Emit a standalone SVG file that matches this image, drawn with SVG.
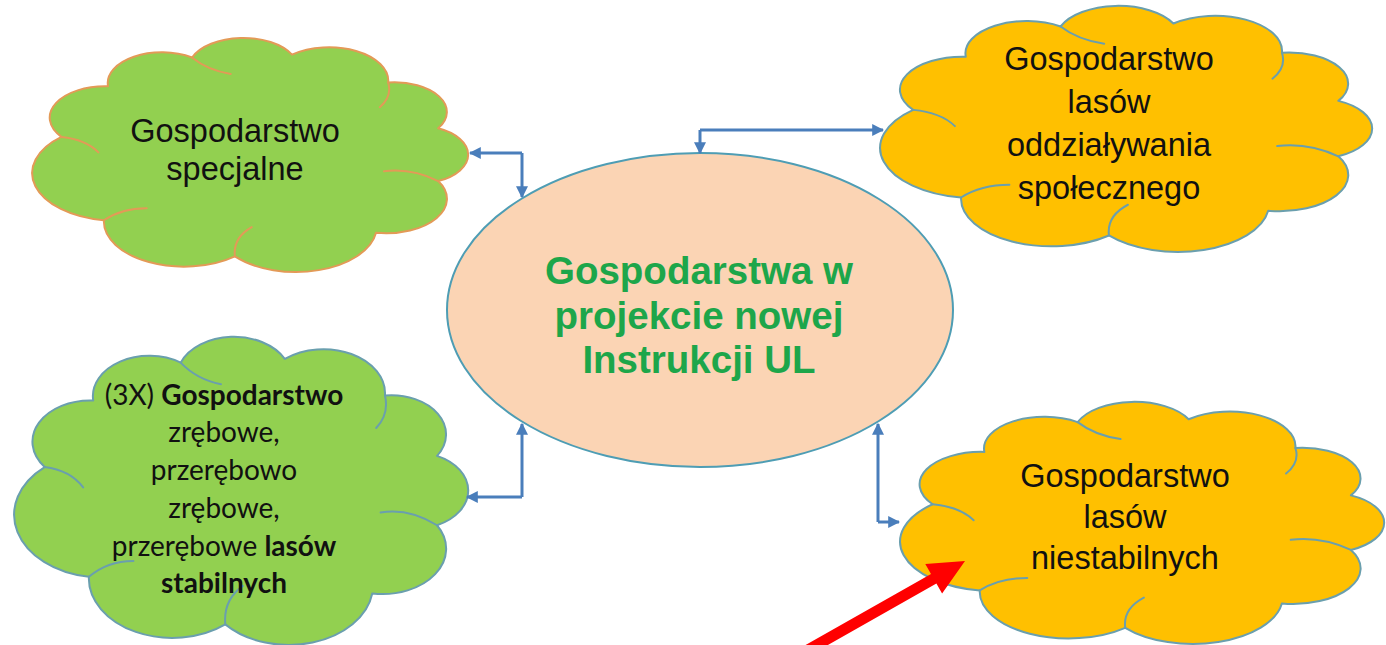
<svg xmlns="http://www.w3.org/2000/svg" width="1386" height="645" viewBox="0 0 1386 645">
<style>
.bg{fill:#ffffff}
.cloud{stroke-width:2;stroke-linejoin:round}
.crease{fill:none;stroke-width:2;stroke-linecap:round}
.green{fill:#92D050}
.orange{fill:#FFC000}
.s-orange{stroke:#E39A57}
.s-teal{stroke:#6A9FAE}
.t{font-family:"Liberation Sans",Arial,sans-serif;font-size:32.5px;fill:#111111;text-anchor:middle}
.tc{font-family:Lato,"Liberation Sans",sans-serif;font-size:28px;fill:#111111;text-anchor:middle}
.tm{font-family:"Liberation Sans",Arial,sans-serif;font-size:38.5px;font-weight:bold;fill:#1DA64A;text-anchor:middle}
.conn{fill:none;stroke:#4A7EBB;stroke-width:3}
</style>
<defs>
<path id="cloudShape" vector-effect="non-scaling-stroke" d="M4.7,42.5 A13.2,13.2 0 0 1 15.8,21.2 A12.9,12.9 0 0 1 35.8,9.1 A13.1,13.1 0 0 1 59.6,7.9 A14.1,14.1 0 0 1 82.5,19.6 A12.5,12.5 0 0 1 94.4,38.9 A12.2,12.2 0 0 1 94.4,61.1 A14.5,14.5 0 0 1 79.6,82.9 A19.3,19.3 0 0 1 46,92.8 A19.1,19.1 0 0 1 14.8,77.6 A20.1,20.1 0 0 1 4.7,42.5 Z"/>
<path id="cloudCrease" vector-effect="non-scaling-stroke" d="M14.8,77.6 Q19,72.5 25,72.5 M46,92.8 Q45.5,85 50,80.5 M94.4,61.1 Q88,55.5 81.5,57 M35.8,9.1 Q39.5,14.5 45,16 M82.5,19.6 Q83.5,25.5 80.5,30 M4.7,42.5 Q10.5,43.5 13.5,49"/>
<marker id="ah" viewBox="0 0 10 10" refX="9" refY="5" markerWidth="4" markerHeight="4" orient="auto" markerUnits="strokeWidth">
<path d="M0,0 L10,5 L0,10 Z" fill="#4A7EBB"/>
</marker>
</defs>
<rect class="bg" x="0" y="0" width="1386" height="645"/>

<g id="node-center">
<ellipse cx="700" cy="310" rx="253" ry="157" fill="#FBD4B4" stroke="#4E9DB4" stroke-width="2"/>
<text class="tm" x="699" y="284">Gospodarstwa w</text>
<text class="tm" x="699" y="329">projekcie nowej</text>
<text class="tm" x="699" y="373">Instrukcji UL</text>
</g>

<g id="node-specjalne">
<g transform="translate(41.7,35.9) scale(4.2,2.376)">
<use href="#cloudShape" class="cloud green s-orange"/>
<use href="#cloudCrease" class="crease s-orange"/>
</g>
<text class="t" x="235" y="142">Gospodarstwo</text>
<text class="t" x="235" y="180">specjalne</text>
</g>

<g id="node-stabilnych">
<g transform="translate(24.1,334.2) scale(4.374,3.127)">
<use href="#cloudShape" class="cloud green s-teal"/>
<use href="#cloudCrease" class="crease s-teal"/>
</g>
<text class="tc" x="224" y="405">(3X) <tspan font-weight="bold">Gospodarstwo</tspan></text>
<text class="tc" x="224" y="442">zrębowe,</text>
<text class="tc" x="224" y="480">przerębowo</text>
<text class="tc" x="224" y="518">zrębowe,</text>
<text class="tc" x="224" y="556">przerębowe <tspan font-weight="bold">lasów</tspan></text>
<text class="tc" x="224" y="593" font-weight="bold">stabilnych</text>
</g>

<g id="node-spolecznego">
<g transform="translate(890.9,3.75) scale(4.74,2.497)">
<use href="#cloudShape" class="cloud orange s-teal"/>
<use href="#cloudCrease" class="crease s-teal"/>
</g>
<text class="t" x="1109" y="70">Gospodarstwo</text>
<text class="t" x="1109" y="113">lasów</text>
<text class="t" x="1109" y="156">oddziaływania</text>
<text class="t" x="1109" y="199">społecznego</text>
</g>

<g id="node-niestabilnych">
<g transform="translate(910.7,399.8) scale(4.663,2.457)">
<use href="#cloudShape" class="cloud orange s-teal"/>
<use href="#cloudCrease" class="crease s-teal"/>
</g>
<text class="t" x="1125" y="487">Gospodarstwo</text>
<text class="t" x="1125" y="528">lasów</text>
<text class="t" x="1125" y="569">niestabilnych</text>
</g>

<g id="connectors">
<path class="conn" d="M522,153 L522,197" marker-end="url(#ah)"/>
<path class="conn" d="M522,153 L470,153" marker-end="url(#ah)"/>
<path class="conn" d="M700,130 L700,153" marker-end="url(#ah)"/>
<path class="conn" d="M700,130 L883,130" marker-end="url(#ah)"/>
<path class="conn" d="M522,497 L522,424" marker-end="url(#ah)"/>
<path class="conn" d="M522,497 L467,497" marker-end="url(#ah)"/>
<path class="conn" d="M878,522 L878,424" marker-end="url(#ah)"/>
<path class="conn" d="M878,522 L899,522" marker-end="url(#ah)"/>
</g>

<g id="red-arrow">
<polygon points="965,561 942.1,593.5 936.4,583.5 793,664.8 787.6,655.2 931,573.9 925.3,563.9" fill="#FF0000"/>
</g>
</svg>
